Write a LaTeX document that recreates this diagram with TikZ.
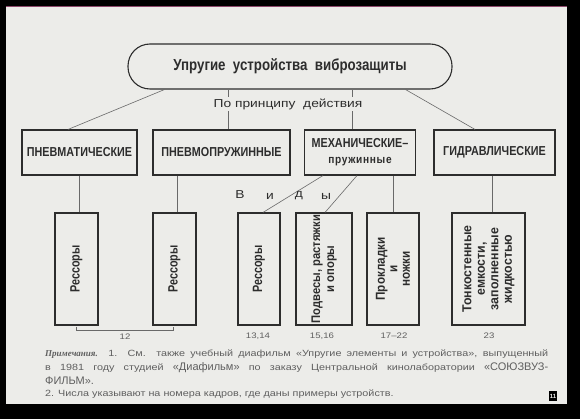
\documentclass[tikz,border=0pt]{standalone}
\usepackage{fontspec}
\setmainfont{Liberation Sans}
\newfontfamily\bA[FakeStretch=0.8]{Liberation Sans Bold}
\newfontfamily\bT[FakeStretch=0.83]{Liberation Sans Bold}
\newfontfamily\bB[FakeStretch=0.9]{Liberation Sans Bold}
\newfontfamily\bC[FakeStretch=0.95]{Liberation Sans Bold}
\newfontfamily\bSp[FakeStretch=0.88,LetterSpace=6]{Liberation Sans Bold}
\newfontfamily\wide[FakeStretch=1.2]{Liberation Sans}
\newfontfamily\serifit{Liberation Serif Bold Italic}
\usetikzlibrary{calc}
\definecolor{paper}{RGB}{236,236,233}
\definecolor{ink}{RGB}{45,45,45}
\definecolor{wire}{RGB}{105,105,105}
\definecolor{notec}{RGB}{95,95,95}
\tikzset{
  lvtwo/.style={draw=ink, line width=1.1pt, minimum height=45pt, inner sep=0pt, text=ink, font=\bT\fontsize{13}{14}\selectfont},
  lvthree/.style={draw=ink, line width=1.1pt, minimum height=112pt, inner sep=0pt},
  vtext/.style={rotate=90, align=center, text=ink, font=\bA\fontsize{13.5}{13}\selectfont},
  wireline/.style={draw=wire, line width=0.6pt},
  numlbl/.style={text=notec, font=\wide\fontsize{8}{9}\selectfont, inner sep=0pt},
  vidy/.style={text=ink, inner sep=0pt, font=\wide\fontsize{11.5}{12}\selectfont},
  notel/.style={anchor=west, text=notec, inner sep=0pt, font=\wide\fontsize{9}{9}\selectfont},
}
\begin{document}
\begin{tikzpicture}[x=1pt,y=-1pt]
\useasboundingbox (0,0) rectangle (580,419);
\fill[black] (0,0) rectangle (580,419);
\fill[paper] (6,7) rectangle (567,404);
\draw[magenta!50!black, line width=0.8pt] (6,6.5) -- (567,6.5);

% top node
\node[draw=ink, line width=1.1pt, rounded corners=22pt, minimum width=324pt, minimum height=45pt, inner sep=0pt, text=ink,
  font=\bT\fontsize{16}{17}\selectfont] (top) at (290,66.5) {Упругие\ \ устройства\ \ виброзащиты};

% level two
\node[lvtwo, minimum width=115pt] (pnev) at (79.5,152.5) {ПНЕВМАТИЧЕСКИЕ};
\node[lvtwo, minimum width=137pt] (pnevmo) at (221.5,152.5) {ПНЕВМОПРУЖИННЫЕ};
\node[lvtwo, minimum width=111pt, align=center] (mech) at (360,152.5) {МЕХАНИЧЕСКИЕ–\\[2pt]{\bSp\fontsize{11.5}{12}\selectfont пружинные}};
\node[lvtwo, minimum width=121pt] (gidr) at (494.5,152.5) {ГИДРАВЛИЧЕСКИЕ};

% level three
\node[lvthree, minimum width=43pt] (r1) at (76.5,269) {};
\node[vtext] at (r1) {Рессоры};
\node[lvthree, minimum width=43pt] (r2) at (174.5,269) {};
\node[vtext] at (r2) {Рессоры};
\node[lvthree, minimum width=42pt] (r3) at (259,269) {};
\node[vtext] at (r3) {Рессоры};
\node[lvthree, minimum width=56pt] (pod) at (324,269) {};
\node[vtext, font=\bB\fontsize{12.5}{14}\selectfont] at (pod) {Подвесы, растяжки\\и опоры};
\node[lvthree, minimum width=52pt] (prok) at (393,269) {};
\node[vtext, font=\bB\fontsize{13}{12.5}\selectfont] at (prok) {Прокладки\\и\\ножки};
\node[lvthree, minimum width=73pt] (tonk) at (488.5,269) {};
\node[vtext, font=\bC\fontsize{13}{13.5}\selectfont] at (tonk) {Тонкостенные\\емкости,\\заполненные\\жидкостью};

% connectors from top
\draw[wireline] ([xshift=37pt]top.south west) -- ([xshift=-11.5pt]pnev.north);
\draw[wireline] ([xshift=6.5pt]pnevmo.north) -- ([xshift=6.5pt]pnevmo.north |- top.south);
\draw[wireline] ([xshift=-8pt]mech.north) -- ([xshift=-8pt]mech.north |- top.south);
\draw[wireline] ([xshift=-47pt]top.south east) -- ([xshift=-19.5pt]gidr.north);
\node[fill=paper, text=ink, inner sep=1.5pt, font=\wide\fontsize{11.5}{12}\selectfont] (princ) at (288,104) {По\ принципу\ \ действия};

% connectors to level three
\draw[wireline] (pnev.south) -- (pnev.south |- r1.north);
\draw[wireline] ([xshift=2.5pt]r2.north) -- ([xshift=2.5pt]r2.north |- pnevmo.south);
\draw[wireline] ([xshift=-37pt]mech.south) -- ([xshift=4pt]r3.north);
\draw[wireline] ([xshift=-3pt]mech.south) -- ([xshift=1pt]pod.north);
\draw[wireline] (prok.north) -- (prok.north |- mech.south);
\draw[wireline] ([xshift=-2.5pt]gidr.south) -- ([xshift=-2.5pt]gidr.south |- tonk.north);

% Виды
\node[vidy] (vv) at (240,195) {В};
\node[vidy] (vi) at (270,196) {и};
\node[vidy] (vd) at (299,196) {д};
\node[vidy] (vy) at (326,196) {ы};

% bracket and numbers
\draw[wireline] ([yshift=-1pt]r1.south) -- ++(0,-3.5pt) -| ([yshift=-1pt,xshift=-1.5pt]r2.south);
\node[numlbl] (n12) at (125,337) {12};
\node[numlbl] (n1314) at (258,336) {13,14};
\node[numlbl] (n1516) at (322,336) {15,16};
\node[numlbl] (n1722) at (394,336) {17–22};
\node[numlbl] (n23) at (489,336) {23};

% note
\node[notel] (l1) at (45,354) {\makebox[503pt][s]{{\serifit\fontsize{9}{9}\selectfont Примечания.} 1. См. также учебный диафильм «Упругие элементы и устройства», выпущенный}};
\node[notel] (l2) at (45,368) {\makebox[503pt][s]{в 1981 году студией {\normalfont\fontsize{11}{11}\selectfont «Диафильм»} по заказу Центральной кинолаборатории {\normalfont\fontsize{11}{11}\selectfont «СОЮЗВУЗ-}}};
\node[notel, font=\normalfont\fontsize{11}{11}\selectfont] (l3) at (45,381) {ФИЛЬМ».};
\node[notel] (l4) at (45,394) {2. Числа указывают на номера кадров, где даны примеры устройств.};

% frame number
\node[fill=black, text=paper, inner sep=1pt, minimum width=8pt, minimum height=10pt, font=\bfseries\fontsize{6}{6}\selectfont] (fn) at (553,396) {11};
\end{tikzpicture}
\end{document}
